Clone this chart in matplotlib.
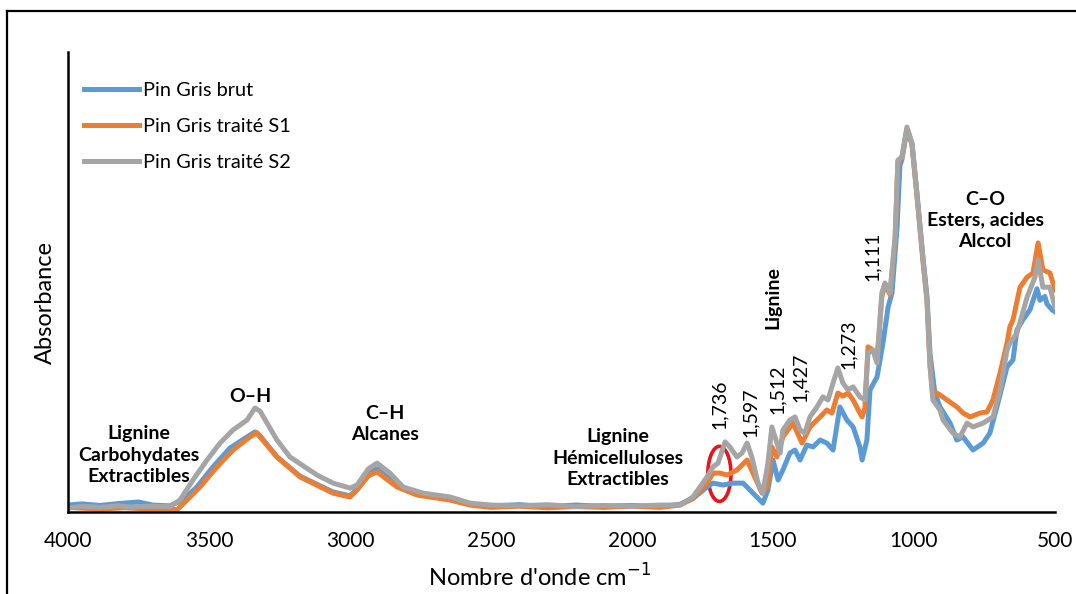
import matplotlib
matplotlib.use("Agg")
import matplotlib.pyplot as plt
from matplotlib.patches import Ellipse
from matplotlib.lines import Line2D

plt.rcParams['font.family'] = ['Lato', 'DejaVu Sans']

# FTIR spectra (wavenumber in cm-1, absorbance in arbitrary units)
wn_brut = [4000, 3950, 3887, 3820, 3750, 3700, 3640, 3592, 3543, 3486, 3426, 3365, 3337,
           3319, 3259, 3177, 3060, 3000, 2975, 2935, 2904, 2833, 2762, 2645, 2574, 2500,
           2400, 2300, 2200, 2100, 2000, 1900, 1830, 1784, 1734, 1713, 1677, 1642, 1606,
           1571, 1536, 1518, 1500, 1482, 1465, 1440, 1422, 1404, 1380, 1358, 1333, 1309,
           1287, 1263, 1238, 1216, 1192, 1184, 1167, 1156, 1131, 1110, 1092, 1078, 1060,
           1050, 1043, 1025, 1007, 990, 968, 954, 943, 926, 908, 872, 848, 826, 791, 755,
           731, 706, 670, 649, 635, 614, 589, 564, 553, 536, 528, 510, 500]
abs_brut = [0.018, 0.021, 0.017, 0.022, 0.026, 0.018, 0.016, 0.031, 0.065, 0.117, 0.166,
            0.195, 0.208, 0.198, 0.143, 0.093, 0.052, 0.042, 0.060, 0.100, 0.112, 0.070,
            0.047, 0.033, 0.020, 0.016, 0.019, 0.014, 0.018, 0.015, 0.017, 0.014, 0.020,
            0.035, 0.065, 0.075, 0.070, 0.075, 0.075, 0.049, 0.023, 0.057, 0.135, 0.083,
            0.109, 0.153, 0.161, 0.135, 0.174, 0.169, 0.187, 0.179, 0.161, 0.273, 0.239,
            0.221, 0.169, 0.135, 0.187, 0.317, 0.351, 0.439, 0.532, 0.569, 0.740, 0.900,
            0.915, 0.995, 0.955, 0.830, 0.660, 0.560, 0.410, 0.309, 0.273, 0.231, 0.187,
            0.195, 0.161, 0.179, 0.205, 0.273, 0.377, 0.395, 0.473, 0.499, 0.525, 0.580,
            0.550, 0.560, 0.540, 0.525, 0.520]

wn_s1 = [4000, 3950, 3880, 3800, 3720, 3650, 3613, 3578, 3532, 3472, 3415, 3355, 3330,
         3319, 3259, 3177, 3060, 3000, 2975, 2935, 2904, 2833, 2762, 2645, 2574, 2500,
         2400, 2300, 2200, 2100, 2000, 1900, 1830, 1784, 1734, 1713, 1688, 1663, 1628,
         1592, 1571, 1539, 1521, 1504, 1486, 1465, 1429, 1397, 1369, 1333, 1309, 1291,
         1270, 1252, 1234, 1216, 1192, 1184, 1174, 1163, 1146, 1131, 1114, 1103, 1085,
         1067, 1057, 1043, 1025, 1007, 990, 968, 954, 943, 933, 919, 908, 883, 848, 826,
         801, 766, 741, 720, 695, 670, 660, 649, 624, 599, 578, 560, 543, 518, 500]
abs_s1 = [0.012, 0.010, 0.008, 0.011, 0.008, 0.008, 0.006, 0.031, 0.065, 0.117, 0.161,
          0.195, 0.206, 0.195, 0.143, 0.091, 0.049, 0.039, 0.057, 0.094, 0.104, 0.065,
          0.044, 0.031, 0.018, 0.012, 0.015, 0.011, 0.014, 0.012, 0.015, 0.012, 0.018,
          0.035, 0.075, 0.101, 0.101, 0.096, 0.109, 0.135, 0.101, 0.049, 0.065, 0.169,
          0.143, 0.195, 0.231, 0.179, 0.221, 0.247, 0.265, 0.257, 0.309, 0.301, 0.309,
          0.291, 0.257, 0.247, 0.270, 0.429, 0.421, 0.395, 0.560, 0.590, 0.565, 0.710,
          0.910, 0.920, 0.995, 0.955, 0.825, 0.650, 0.550, 0.380, 0.300, 0.309, 0.304,
          0.291, 0.273, 0.257, 0.247, 0.257, 0.260, 0.291, 0.361, 0.439, 0.481, 0.499,
          0.584, 0.610, 0.621, 0.699, 0.629, 0.621, 0.577]

wn_s2 = [4000, 3950, 3887, 3820, 3780, 3709, 3638, 3603, 3557, 3507, 3461, 3415, 3365,
         3337, 3319, 3259, 3213, 3117, 3060, 3000, 2975, 2935, 2904, 2858, 2812, 2741,
         2645, 2574, 2500, 2400, 2300, 2200, 2100, 2000, 1900, 1830, 1784, 1734, 1713,
         1695, 1670, 1653, 1628, 1610, 1592, 1575, 1553, 1536, 1518, 1504, 1486, 1475,
         1465, 1440, 1422, 1404, 1387, 1369, 1344, 1323, 1305, 1287, 1270, 1252, 1234,
         1216, 1192, 1174, 1163, 1146, 1131, 1114, 1103, 1085, 1067, 1057, 1043, 1025,
         1007, 990, 968, 954, 943, 933, 908, 897, 862, 837, 812, 791, 755, 720, 695, 670,
         660, 635, 599, 571, 560, 543, 518, 500]
abs_s2 = [0.010, 0.015, 0.012, 0.016, 0.013, 0.015, 0.014, 0.031, 0.083, 0.135, 0.179,
          0.213, 0.239, 0.270, 0.262, 0.187, 0.143, 0.096, 0.075, 0.062, 0.070, 0.112,
          0.127, 0.101, 0.065, 0.049, 0.039, 0.023, 0.018, 0.016, 0.019, 0.014, 0.017,
          0.015, 0.018, 0.018, 0.039, 0.091, 0.117, 0.127, 0.182, 0.169, 0.143, 0.153,
          0.179, 0.143, 0.075, 0.049, 0.127, 0.221, 0.179, 0.153, 0.213, 0.239, 0.247,
          0.213, 0.205, 0.247, 0.273, 0.299, 0.291, 0.335, 0.374, 0.335, 0.317, 0.325,
          0.299, 0.291, 0.413, 0.421, 0.387, 0.569, 0.595, 0.569, 0.714, 0.914, 0.922,
          1.000, 0.958, 0.829, 0.655, 0.551, 0.377, 0.291, 0.265, 0.239, 0.205, 0.195,
          0.231, 0.221, 0.231, 0.247, 0.317, 0.421, 0.439, 0.465, 0.558, 0.610, 0.655,
          0.584, 0.584, 0.532]

series = [
    (wn_brut, abs_brut, 'Pin Gris brut', '#5B9BD5'),
    (wn_s1, abs_s1, 'Pin Gris traité S1', '#ED7D31'),
    (wn_s2, abs_s2, 'Pin Gris traité S2', '#A5A5A5'),
]

# band positions marked on the spectrum (cm-1)
peak_labels = ['1,736', '1,597', '1,512', '1,427', '1,273', '1,111']
peak_pos = [1692, 1582, 1486, 1404, 1234, 1149]
peak_y = [0.281, 0.260, 0.319, 0.351, 0.436, 0.665]

fig = plt.figure(figsize=(10.76, 5.94), dpi=100)
ax = fig.add_axes([68 / 1076, 1 - 512 / 594, 987 / 1076, 460 / 594])

for wn, ab, name, col in series:
    ax.plot(wn, ab, color=col, lw=3.6, label=name, solid_joinstyle='round')

ax.set_xlim(4000, 500)
ax.set_ylim(0, 1.195)
ax.set_xticks([4000, 3500, 3000, 2500, 2000, 1500, 1000, 500])
ax.set_yticks([])
ax.tick_params(axis='x', length=0, labelsize=15, pad=14)
for s in ['top', 'right']:
    ax.spines[s].set_visible(False)
for s in ['left', 'bottom']:
    ax.spines[s].set_linewidth(1.8)

ax.set_xlabel("Nombre d'onde cm$^{-1}$", fontsize=17)
ax.xaxis.set_label_coords(0.478, -0.141)
ax.xaxis.label.set_va('center')
ax.set_ylabel('Absorbance', fontsize=17)
ax.yaxis.set_label_coords(-0.0233, 0.4565)
ax.yaxis.label.set_va('center')

leg = ax.legend(loc='upper left', bbox_to_anchor=(-0.002, 0.975), frameon=False,
                fontsize=14.4, handlelength=2.75, handletextpad=0.2, labelspacing=0.95)

# band assignments
bold = dict(fontsize=14, fontweight='bold', ha='center', va='center', linespacing=1.3)
ax.text(3748, 0.148, 'Lignine\nCarbohydates\nExtractibles', **bold)
ax.text(3355, 0.301, 'O–H', **bold)
ax.text(2876, 0.229, 'C–H\nAlcanes', **bold)
ax.text(2050, 0.140, 'Lignine\nHémicelluloses\nExtractibles', **bold)
ax.text(748, 0.758, 'C–O\nEsters, acides\nAlccol', **bold)
ax.text(1500, 0.558, 'Lignine', fontsize=14, fontweight='bold', rotation=90,
        ha='center', va='center')

for lab, x, y in zip(peak_labels, peak_pos, peak_y):
    ax.text(x, y, lab, fontsize=14, rotation=90, ha='center', va='center')

ax.add_patch(Ellipse((1690, 0.099), 82, 0.143, fill=False, edgecolor='#E8141B', lw=2.6))

# frame around the figure
fig.add_artist(Line2D([7 / 1076, 1], [1 - 11 / 594] * 2, color='black', lw=1.6))
fig.add_artist(Line2D([7 / 1076] * 2, [0, 1 - 11 / 594], color='black', lw=1.6))

fig.savefig('out.png', dpi=100)
